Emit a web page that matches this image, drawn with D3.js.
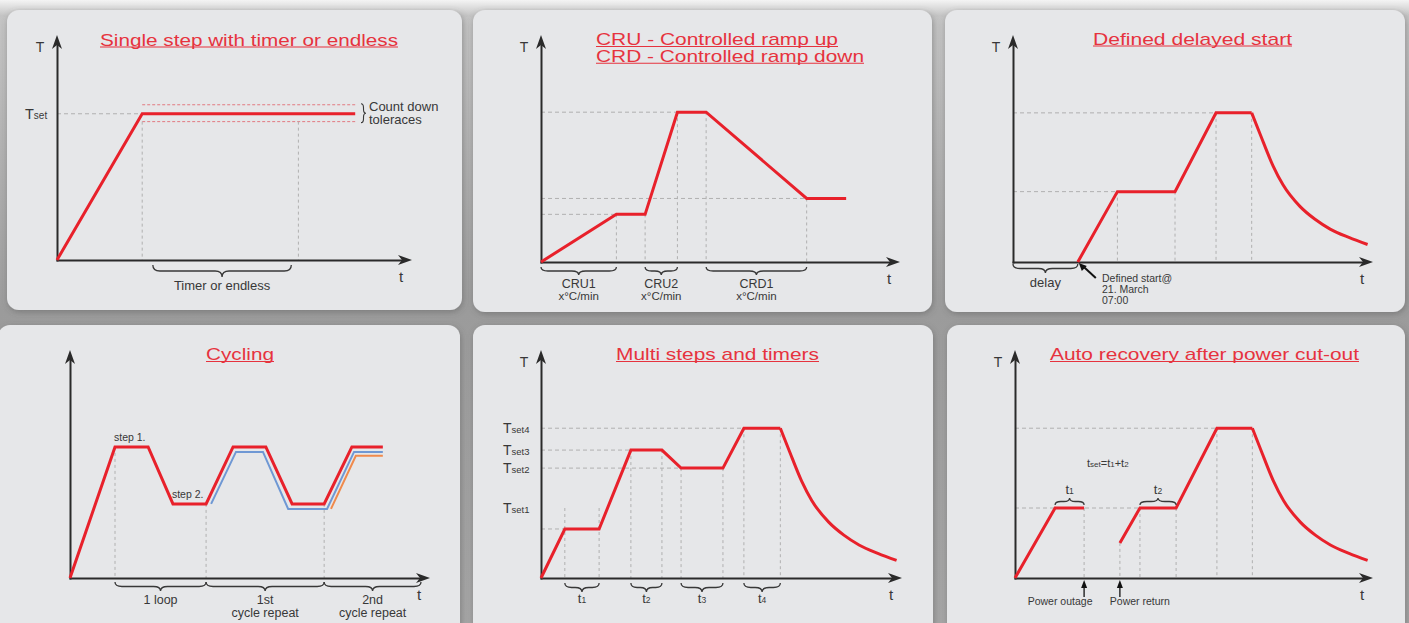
<!DOCTYPE html>
<html>
<head>
<meta charset="utf-8">
<script src="https://cdn.jsdelivr.net/npm/d3@7"></script>
<style>
  body { margin: 0; background: #a3a3a3; }
  svg { display: block; font-family: "Liberation Sans", Arial, sans-serif; }
</style>
</head>
<body>
<div id="chart-area"></div>
<script>
// all times / temperatures are in % of the axis length

// 1. single step
const stepTime = [0, 24, 84];
const stepTemp = [0, 65, 65];
const tolerance = [69, 61.5];
const timerGuides = [24, 68];
const timerSpan = [27, 66];

// 2. controlled ramps
const rampTime = [0, 21, 29, 38, 46, 74, 85];
const rampTemp = [0, 21, 21, 66, 66, 28, 28];
const rampNames = ["CRU1", "CRU2", "CRD1"];
const rampSpans = [[0, 21], [29, 38], [46, 74]];

// cool-down curve shared by panels 3, 5 and 6
const coolTime = [66.3, 68.6, 72.2, 75, 79.7, 83.9, 88.1, 93.3, 98.5];
const coolTemp = [65.7, 56.5, 42.5, 34, 24.5, 18.8, 14.5, 10.8, 7.7];

// 3. delayed start
const delayTime = [18, 29, 45, 56.4, 66.3];
const delayTemp = [0, 31, 31, 65.7, 65.7];
const delaySpan = [0, 18];

// 4. cycling
const cycleTime = [0, 12.5, 21.7, 28.6, 37.8, 45.3, 54.4, 61.7, 70.6, 78.3, 86.9];
const cycleTemp = [0, 57.5, 57.5, 32.5, 32.5, 57.5, 57.5, 32.5, 32.5, 57.5, 57.5];
const repeat1Time = [39.2, 46.1, 53.6, 60.6, 71.4, 78.9, 86.9];
const repeat1Temp = [32.5, 55.3, 55.3, 30.3, 30.3, 55.3, 55.3];
const repeat2Time = [72.5, 79.4, 86.9];
const repeat2Temp = [30.3, 53.6, 53.6];
const cycleNames = [["1 loop"], ["1st", "cycle repeat"], ["2nd", "cycle repeat"]];
const cycleSpans = [[12.5, 37.8], [37.8, 70.6], [70.6, 97.5]];

// 5. multi steps
const multiTime = [0, 6.6, 16.1, 24.9, 33.5, 38.8, 50.4, 56.2, 66.3];
const multiTemp = [0, 21.5, 21.5, 56.1, 56.1, 48.2, 48.2, 65.7, 65.7];
const multiLabels = ["4", "3", "2", "1"];
const multiLabelTemp = [65.7, 56.1, 48.2, 30.7];
const multiSpans = [[6.6, 16.1], [24.9, 33.5], [38.8, 50.4], [56.2, 66.3]];

// 6. power cut
const beforeTime = [0, 11.2, 19.3];
const beforeTemp = [0, 30.7, 30.7];
const afterTime = [29.3, 34.9, 45, 56.4, 66.3];
const afterTemp = [15.4, 30.7, 30.7, 65.7, 65.7];
const cutSpans = [[11.2, 19.3], [34.9, 45]];
const cutEvents = [19.3, 29.3];
const cutNames = ["Power outage", "Power return"];

// card + axis geometry
const layout = [
    {card: [7, 10, 455, 300], ox: 57, oy: 260, xTip: 412, yTip: 35},
    {card: [473, 10, 459, 302], ox: 541, oy: 262, xTip: 900, yTip: 35},
    {card: [945, 10, 460, 302], ox: 1013, oy: 262, xTip: 1373, yTip: 35},
    {card: [-2, 325, 462, 310], ox: 70, oy: 578, xTip: 430, yTip: 350},
    {card: [473, 325, 460, 310], ox: 541, oy: 578, xTip: 902, yTip: 350},
    {card: [947, 325, 458, 310], ox: 1015, oy: 578, xTip: 1373, yTip: 350}
];

const RED = "#e8212b", TITLE = "#e6333e", INK = "#383838", AXIS = "#2a2a2a", GUIDE = "#b0b0b0";

const svg = d3.select("#chart-area").append("svg")
    .attr("width", 1409)
    .attr("height", 623);

const defs = svg.append("defs");
const bg = defs.append("linearGradient").attr("id", "bg").attr("x1", 0).attr("y1", 0).attr("x2", 0).attr("y2", 1);
bg.append("stop").attr("offset", "0").attr("stop-color", "#f4f4f4");
bg.append("stop").attr("offset", "0.025").attr("stop-color", "#c4c4c4");
bg.append("stop").attr("offset", "0.5").attr("stop-color", "#9b9b9b");
bg.append("stop").attr("offset", "1").attr("stop-color", "#a5a5a5");
const sh = defs.append("filter").attr("id", "shadow").attr("x", -0.05).attr("y", -0.05).attr("width", 1.1).attr("height", 1.1);
sh.append("feDropShadow").attr("dx", 1).attr("dy", 2).attr("stdDeviation", 3)
    .attr("flood-color", "#555").attr("flood-opacity", 0.45);

svg.append("rect").attr("width", 1409).attr("height", 623).attr("fill", "url(#bg)");

const zip = (a, b) => a.map((v, i) => [v, b[i]]);

function panel(i) {
    const L = layout[i];
    const g = svg.append("g");
    g.append("rect")
        .attr("x", L.card[0]).attr("y", L.card[1])
        .attr("width", L.card[2]).attr("height", L.card[3])
        .attr("rx", 12)
        .attr("fill", "#e6e7e9")
        .attr("filter", "url(#shadow)");
    const x = d3.scaleLinear().domain([0, 100]).range([L.ox, L.xTip]);
    const y = d3.scaleLinear().domain([0, 100]).range([L.oy, L.yTip]);
    return {g, x, y, L};
}

function axes(p, showT) {
    const {g, x, y, L} = p;
    g.append("g").attr("transform", `translate(0,${L.oy})`)
        .call(d3.axisBottom(x.copy().range([L.ox - 1, L.xTip - 8])).tickValues([]).tickSizeOuter(0))
        .call(a => a.select(".domain").attr("stroke", AXIS).attr("stroke-width", 2));
    g.append("g").attr("transform", `translate(${L.ox},0)`)
        .call(d3.axisLeft(y.copy().range([L.oy + 1, L.yTip + 8])).tickValues([]).tickSizeOuter(0))
        .call(a => a.select(".domain").attr("stroke", AXIS).attr("stroke-width", 2));
    const X = x(100), Y = y(100);
    g.append("polygon").attr("fill", AXIS)
        .attr("points", `${X},${L.oy} ${X - 14},${L.oy - 5} ${X - 10},${L.oy} ${X - 14},${L.oy + 5}`);
    g.append("polygon").attr("fill", AXIS)
        .attr("points", `${L.ox},${Y} ${L.ox - 5},${Y + 14} ${L.ox},${Y + 10} ${L.ox + 5},${Y + 14}`);
    g.append("text").attr("x", X - 11).attr("y", L.oy + 22).attr("text-anchor", "middle")
        .attr("font-size", 15).attr("fill", INK).text("t");
    if (showT) {
        g.append("text").attr("x", L.ox - 17).attr("y", Y + 17).attr("text-anchor", "middle")
            .attr("font-size", 14).attr("fill", INK).text("T");
    }
}

function title(p, lines) {
    lines.forEach(([txt, x1, x2, base]) => {
        p.g.append("text").attr("x", x1).attr("y", base)
            .attr("font-size", 17).attr("fill", TITLE)
            .attr("textLength", x2 - x1).attr("lengthAdjust", "spacingAndGlyphs")
            .text(txt);
        p.g.append("line").attr("x1", x1).attr("x2", x2)
            .attr("y1", base + 1.5).attr("y2", base + 1.5)
            .attr("stroke", TITLE).attr("stroke-width", 1.1);
    });
}

function hGuide(p, T, t) {
    p.g.append("line")
        .attr("x1", p.x(0)).attr("x2", p.x(t))
        .attr("y1", p.y(T)).attr("y2", p.y(T))
        .attr("stroke", GUIDE).attr("stroke-width", 1)
        .attr("stroke-dasharray", "4,3");
}
function hBand(p, T, t0, t1, color) {
    p.g.append("line")
        .attr("x1", p.x(t0)).attr("x2", p.x(t1))
        .attr("y1", p.y(T)).attr("y2", p.y(T))
        .attr("stroke", color).attr("stroke-width", 1)
        .attr("stroke-dasharray", "3,2");
}
function vGuide(p, t, T) {
    p.g.append("line")
        .attr("x1", p.x(t)).attr("x2", p.x(t))
        .attr("y1", p.y(T)).attr("y2", p.y(0))
        .attr("stroke", GUIDE).attr("stroke-width", 1)
        .attr("stroke-dasharray", "3,3");
}

function curve(p, times, temps, color, width, shape) {
    const line = d3.line()
        .x(d => p.x(d[0]))
        .y(d => p.y(d[1]))
        .curve(shape || d3.curveLinear);
    p.g.append("path")
        .attr("d", line(zip(times, temps)))
        .attr("fill", "none")
        .attr("stroke", color)
        .attr("stroke-width", width)
        .attr("stroke-linejoin", "miter");
}

// horizontal curly brace, dir 1 = points down
function brace(g, x1, x2, y, h, dir) {
    const m = (x1 + x2) / 2, r = Math.min(7, (x2 - x1) / 5);
    const yh = y + dir * h / 2, ye = y + dir * h;
    g.append("path")
        .attr("d", `M${x1},${y} Q${x1},${yh} ${x1 + r},${yh} L${m - r},${yh} Q${m},${yh} ${m},${ye}` +
                   ` Q${m},${yh} ${m + r},${yh} L${x2 - r},${yh} Q${x2},${yh} ${x2},${y}`)
        .attr("fill", "none").attr("stroke", INK).attr("stroke-width", 1.3);
}
function vbrace(g, x, y1, y2, w) {
    const m = (y1 + y2) / 2, r = 4, xh = x + w / 2, xe = x + w;
    g.append("path")
        .attr("d", `M${x},${y1} Q${xh},${y1} ${xh},${y1 + r} L${xh},${m - r} Q${xh},${m} ${xe},${m}` +
                   ` Q${xh},${m} ${xh},${m + r} L${xh},${y2 - r} Q${xh},${y2} ${x},${y2}`)
        .attr("fill", "none").attr("stroke", INK).attr("stroke-width", 1.1);
}

function label(g, x, y, txt, size, anchor) {
    return g.append("text").attr("x", x).attr("y", y)
        .attr("font-size", size).attr("fill", INK)
        .attr("text-anchor", anchor || "start").text(txt);
}
function subLabel(g, x, y, main, sub, size, subSize, anchor) {
    const t = g.append("text").attr("x", x).attr("y", y)
        .attr("font-size", size).attr("fill", INK)
        .attr("text-anchor", anchor || "start");
    t.append("tspan").text(main);
    t.append("tspan").attr("font-size", subSize).text(sub);
    return t;
}

// ---------- 1. Single step ----------
{
    const p = panel(0);
    title(p, [["Single step with timer or endless", 100, 398, 45.5]]);
    hGuide(p, stepTemp[1], stepTime[1]);
    tolerance.forEach(T => hBand(p, T, stepTime[1], stepTime[2], "#e27a80"));
    timerGuides.forEach(t => vGuide(p, t, tolerance[1]));
    axes(p, true);
    curve(p, stepTime, stepTemp, RED, 3);
    subLabel(p.g, 25, p.y(stepTemp[1]) + 5, "T", "set", 14.5, 10);
    vbrace(p.g, 361, p.y(tolerance[0]) - 1, p.y(tolerance[1]) + 1, 5);
    label(p.g, 369, 111, "Count down", 13);
    label(p.g, 369, 123.5, "toleraces", 13);
    brace(p.g, p.x(timerSpan[0]), p.x(timerSpan[1]), p.L.oy + 5, 12, 1);
    label(p.g, p.x((timerSpan[0] + timerSpan[1]) / 2), p.L.oy + 30, "Timer or endless", 13, "middle");
}

// ---------- 2. Controlled ramps ----------
{
    const p = panel(1);
    title(p, [["CRU - Controlled ramp up", 596, 838, 45], ["CRD - Controlled ramp down", 596, 864, 61.7]]);
    hGuide(p, rampTemp[3], rampTime[3]);
    hGuide(p, rampTemp[5], rampTime[5]);
    hGuide(p, rampTemp[1], rampTime[1]);
    [1, 2].forEach(i => vGuide(p, rampTime[i], rampTemp[i]));
    [3, 4, 5].forEach(i => vGuide(p, rampTime[i], rampTemp[i]));
    axes(p, true);
    curve(p, rampTime, rampTemp, RED, 3);
    rampSpans.forEach((s, i) => {
        const m = p.x((s[0] + s[1]) / 2);
        brace(p.g, p.x(s[0]), p.x(s[1]), p.L.oy + 5, 8, 1);
        label(p.g, m, p.L.oy + 26, rampNames[i], 12.5, "middle");
        label(p.g, m, p.L.oy + 38, "x°C/min", 11.5, "middle");
    });
}

// ---------- 3. Defined delayed start ----------
{
    const p = panel(2);
    title(p, [["Defined delayed start", 1093, 1292, 44.5]]);
    hGuide(p, delayTemp[3], delayTime[3]);
    hGuide(p, delayTemp[1], delayTime[1]);
    [1, 2, 3, 4].forEach(i => vGuide(p, delayTime[i], delayTemp[i]));
    axes(p, true);
    curve(p, delayTime, delayTemp, RED, 3);
    curve(p, coolTime, coolTemp, RED, 3, d3.curveMonotoneX);
    brace(p.g, p.x(delaySpan[0]), p.x(delaySpan[1]), p.L.oy + 2, 9, 1);
    label(p.g, p.x((delaySpan[0] + delaySpan[1]) / 2), p.L.oy + 25, "delay", 13, "middle");
    const sx = p.x(delayTime[0]), sy = p.L.oy;
    p.g.append("line").attr("x1", sx + 5).attr("y1", sy + 4).attr("x2", sx + 18).attr("y2", sy + 16)
        .attr("stroke", "#111").attr("stroke-width", 2);
    p.g.append("polygon").attr("fill", "#111")
        .attr("points", `${sx + 1},${sy + 1} ${sx + 9},${sy + 4} ${sx + 4},${sy + 9}`);
    label(p.g, 1102, 282, "Defined start@", 10.5);
    label(p.g, 1102, 293, "21. March", 10.5);
    label(p.g, 1102, 303.5, "07:00", 10.5);
}

// ---------- 4. Cycling ----------
{
    const p = panel(3);
    title(p, [["Cycling", 206, 274, 360]]);
    [1, 4, 8].forEach(i => vGuide(p, cycleTime[i], cycleTemp[i]));
    axes(p, false);
    curve(p, repeat2Time, repeat2Temp, "#f08a4c", 2);
    curve(p, repeat1Time, repeat1Temp, "#6f98d4", 2);
    curve(p, cycleTime, cycleTemp, RED, 3);
    label(p.g, p.x(cycleTime[1]) - 1, p.y(cycleTemp[1]) - 6, "step 1.", 10.5);
    label(p.g, p.x(cycleTime[3]) - 1, p.y(cycleTemp[3]) - 6, "step 2.", 10.5);
    cycleSpans.forEach((s, i) => {
        const m = p.x((s[0] + s[1]) / 2);
        brace(p.g, p.x(s[0]), p.x(s[1]), p.L.oy + 4, 9, 1);
        cycleNames[i].forEach((txt, k) => label(p.g, m, p.L.oy + 26 + k * 13, txt, 12.5, "middle"));
    });
}

// ---------- 5. Multi steps ----------
{
    const p = panel(4);
    title(p, [["Multi steps and timers", 616, 819, 360]]);
    hGuide(p, multiTemp[7], multiTime[7]);
    hGuide(p, multiTemp[3], multiTime[3]);
    hGuide(p, multiTemp[5], multiTime[5]);
    hGuide(p, multiTemp[1], multiTime[1]);
    [1, 2].forEach(i => vGuide(p, multiTime[i], multiLabelTemp[3]));
    [3, 4, 5, 6, 7, 8].forEach(i => vGuide(p, multiTime[i], multiTemp[i]));
    axes(p, true);
    curve(p, multiTime, multiTemp, RED, 3);
    curve(p, coolTime, coolTemp, RED, 3, d3.curveMonotoneX);
    multiLabels.forEach((n, i) => subLabel(p.g, 503, p.y(multiLabelTemp[i]) + 5, "T", "set" + n, 14, 9.5));
    multiSpans.forEach((s, i) => {
        brace(p.g, p.x(s[0]), p.x(s[1]), p.L.oy + 5, 9, 1);
        subLabel(p.g, p.x((s[0] + s[1]) / 2), p.L.oy + 25, "t", String(i + 1), 13, 8.5, "middle");
    });
}

// ---------- 6. Auto recovery ----------
{
    const p = panel(5);
    title(p, [["Auto recovery after power cut-out", 1050, 1359, 360]]);
    hGuide(p, afterTemp[3], afterTime[3]);
    hGuide(p, afterTemp[1], afterTime[1]);
    vGuide(p, beforeTime[2], beforeTemp[2]);
    [0, 1, 2, 3, 4].forEach(i => vGuide(p, afterTime[i], afterTemp[i]));
    axes(p, true);
    curve(p, beforeTime, beforeTemp, RED, 3);
    curve(p, afterTime, afterTemp, RED, 3);
    curve(p, coolTime, coolTemp, RED, 3, d3.curveMonotoneX);
    cutSpans.forEach((s, i) => {
        const yb = p.y(beforeTemp[2]) - 3;
        brace(p.g, p.x(s[0]), p.x(s[1]), yb, 7, -1);
        subLabel(p.g, p.x((s[0] + s[1]) / 2), yb - 11, "t", String(i + 1), 13, 8.5, "middle");
    });
    const f = p.g.append("text").attr("x", 1087).attr("y", 467).attr("fill", INK).attr("font-size", 11);
    f.append("tspan").text("t");
    f.append("tspan").attr("font-size", 8).text("set");
    f.append("tspan").text("=t");
    f.append("tspan").attr("font-size", 8).text("1");
    f.append("tspan").text("+t");
    f.append("tspan").attr("font-size", 8).text("2");
    cutEvents.forEach((t, i) => {
        const ax = p.x(t), oy = p.L.oy;
        p.g.append("line").attr("x1", ax).attr("x2", ax).attr("y1", oy + 8).attr("y2", oy + 19)
            .attr("stroke", "#111").attr("stroke-width", 1.3);
        p.g.append("polygon").attr("fill", "#111")
            .attr("points", `${ax},${oy + 2} ${ax - 3},${oy + 10} ${ax + 3},${oy + 10}`);
        label(p.g, ax + (i === 0 ? -24 : 20), oy + 27, cutNames[i], 10.5, "middle");
    });
}
</script>
</body>
</html>
